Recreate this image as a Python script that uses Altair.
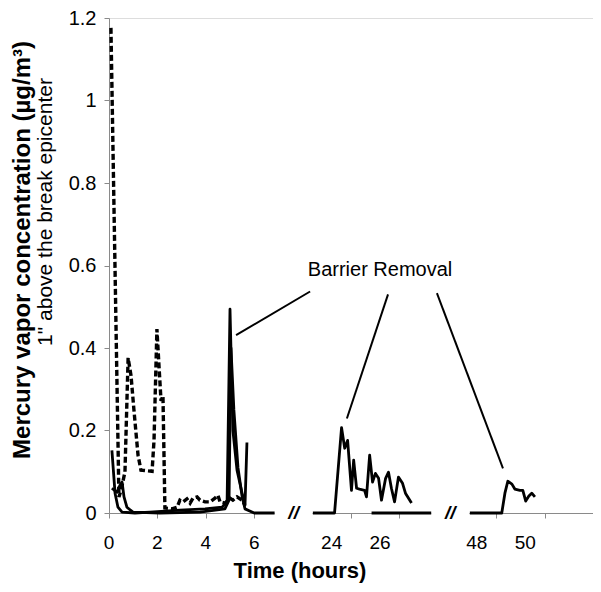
import altair as alt
import pandas as pd

# ---------------- data (hours, µg/m³) ----------------
# dashed series, first period
dash1_t = [0.08, 0.41, 0.50, 0.66, 0.79, 0.91, 1.03, 1.20, 1.32, 1.78, 1.86, 1.98, 2.07, 2.15,
           2.23, 2.31, 2.60, 2.81, 2.93, 3.06, 3.22, 3.35, 3.47, 3.64, 3.76, 3.97, 4.17, 4.38,
           4.50, 4.59, 4.79, 5.00, 5.12, 5.29, 5.50, 5.62]
dash1_v = [1.176, 0.039, 0.055, 0.10, 0.376, 0.333, 0.25, 0.14, 0.104, 0.101, 0.176, 0.446, 0.352,
           0.272, 0.284, 0.012, 0.01, 0.014, 0.031, 0.027, 0.034, 0.024, 0.036, 0.039, 0.031, 0.027,
           0.027, 0.036, 0.043, 0.027, 0.024, 0.036, 0.031, 0.039, 0.031, 0.019]

# solid series A, first period
solA1_t = [0.12, 0.25, 0.37, 0.54, 1.07, 1.69, 2.93, 3.97, 4.67, 4.88, 5.00, 5.12, 5.29, 5.50, 5.62, 5.70]
solA1_v = [0.152, 0.048, 0.014, 0.002, 0.0, 0.002, 0.007, 0.01, 0.014, 0.027, 0.494, 0.2, 0.104,
           0.048, 0.019, 0.171]

# solid series B, first period
solB1_t = [0.12, 0.33, 0.45, 0.54, 0.62, 0.74, 0.99, 2.1, 3.76, 4.79, 4.96, 5.04, 5.16, 5.33,
           5.50, 5.62, 6.0, 6.85]
solB1_v = [0.06, 0.05, 0.067, 0.075, 0.039, 0.014, 0.002, 0.0, 0.002, 0.01, 0.031, 0.40, 0.25,
           0.11, 0.04, 0.01, 0.0, 0.0]

# solid series A, second period (~24 h)
solA2_t = [23.22, 24.12, 24.41, 24.54, 24.66, 24.82, 24.91, 25.03, 25.15, 25.36, 25.44, 25.57,
           25.69, 25.81, 25.94, 26.06, 26.23, 26.35, 26.47, 26.60, 26.76, 26.93, 27.05, 27.30]
solA2_v = [0.0, 0.0, 0.207, 0.157, 0.176, 0.055, 0.128, 0.06, 0.058, 0.055, 0.039, 0.14, 0.075,
           0.096, 0.084, 0.031, 0.084, 0.099, 0.06, 0.027, 0.087, 0.072, 0.048, 0.024]

# solid series B, second period
solB2_t = [25.65, 28.13]
solB2_v = [0.0, 0.0]

# solid series A, third period (~48 h)
solA3_t = [47.71, 49.03, 49.16, 49.28, 49.45, 49.57, 49.78, 49.90, 50.02, 50.15, 50.27, 50.40]
solA3_v = [0.0, 0.0, 0.048, 0.077, 0.07, 0.058, 0.055, 0.055, 0.029, 0.041, 0.048, 0.039]

# broken time axis: hours subtracted in each period to get the drawn position
period_offset = [0.0, 14.8, 32.8]

tick_hours = [0, 2, 4, 6, 24, 26, 48, 50]
tick_period = [0, 0, 0, 0, 1, 1, 2, 2]
grid_ticks = [0, 2, 4, 6, 8, 10, 12, 14, 16, 18, 20]
y_ticks = [0, 0.2, 0.4, 0.6, 0.8, 1.0, 1.2]

# axis breaks (drawn position)
break_from = [6.85, 13.32]
break_to = [8.41, 14.89]

# "Barrier Removal" call-out lines (start near label -> end near peak)
call_x1 = [8.31, 11.53, 13.55]
call_y1 = [0.537, 0.530, 0.533]
call_x2 = [5.25, 9.83, 16.28]
call_y2 = [0.431, 0.229, 0.108]
call_text = "Barrier Removal"
call_text_x = 11.2
call_text_y = 0.59

GRAY = "#8a8a8a"
FONT = "Liberation Sans"
W, H = 484, 495

# ---------------- build tables ----------------
series = [
    ("dash1", "dashed", 0, dash1_t, dash1_v),
    ("solA1", "solid", 0, solA1_t, solA1_v),
    ("solB1", "solid", 0, solB1_t, solB1_v),
    ("solA2", "solid", 1, solA2_t, solA2_v),
    ("solB2", "solid", 1, solB2_t, solB2_v),
    ("solA3", "solid", 2, solA3_t, solA3_v),
]
rows = []
for key, style, per, ts, vs in series:
    for i, (t, v) in enumerate(zip(ts, vs)):
        rows.append({"key": key, "style": style, "hours": t,
                     "d": round(t - period_offset[per], 3), "v": v, "i": i})
df = pd.DataFrame(rows)

lab_pos = [round(h - period_offset[p], 3) for h, p in zip(tick_hours, tick_period)]

xscale = alt.Scale(domain=[0, 20], nice=False, zero=False)
yscale = alt.Scale(domain=[0, 1.2], nice=False)

solid = alt.Chart(df).transform_filter(alt.datum.style == "solid").mark_line(
    color="black", strokeWidth=2.8, strokeJoin="round").encode(
    x=alt.X("d:Q", scale=xscale,
            axis=alt.Axis(values=grid_ticks, labels=False, title=None, grid=False,
                          tickSize=5, tickColor=GRAY, domainColor=GRAY, orient="bottom")),
    y=alt.Y("v:Q", scale=yscale,
            axis=alt.Axis(values=y_ticks, format="~g", title=None, grid=False,
                          tickSize=5, tickColor=GRAY, domainColor=GRAY,
                          labelFontSize=20, labelFont=FONT, labelColor="black",
                          labelPadding=8)),
    detail="key:N",
    order="i:Q",
)

dashed = alt.Chart(df).transform_filter(alt.datum.style == "dashed").mark_line(
    color="black", strokeWidth=3.4, strokeDash=[6, 3], strokeJoin="miter").encode(
    x=alt.X("d:Q", scale=xscale),
    y=alt.Y("v:Q", scale=yscale),
    detail="key:N",
    order="i:Q",
)

lab_df = pd.DataFrame({"d": lab_pos, "lab": [str(h) for h in tick_hours]})
xlabels = alt.Chart(lab_df).mark_text(font=FONT, fontSize=19, color="black",
                                      baseline="middle", align="center").encode(
    x=alt.X("d:Q", scale=xscale), y=alt.value(H + 30), text="lab:N")

gap_df = pd.DataFrame({"d1": break_from, "d2": break_to})
gaps = alt.Chart(gap_df).mark_rect(color="white").encode(
    x="d1:Q", x2="d2:Q", y=alt.value(H - 4), y2=alt.value(H + 9)
)

brk_df = pd.DataFrame({"d": [(a + b) / 2 for a, b in zip(break_from, break_to)],
                       "v": [0.0, 0.0], "s": ["//", "//"]})
breaks = alt.Chart(brk_df).mark_text(font=FONT, fontSize=19, fontWeight="bold",
                                     fontStyle="italic", baseline="middle",
                                     color="black").encode(
    x="d:Q", y="v:Q", text="s:N")

call_df = pd.DataFrame({"x1": call_x1, "y1": call_y1, "x2": call_x2, "y2": call_y2})
callouts = alt.Chart(call_df).mark_rule(color="black", strokeWidth=2).encode(
    x="x1:Q", y="y1:Q", x2="x2:Q", y2="y2:Q")

ctext = alt.Chart(pd.DataFrame({"x": [call_text_x], "y": [call_text_y], "t": [call_text]})).mark_text(
    font=FONT, fontSize=20, color="black", baseline="middle").encode(
    x="x:Q", y="y:Q", text="t:N")

ytitle = alt.Chart(pd.DataFrame({"t": ["Mercury vapor concentration  (µg/m³)"]})).mark_text(
    font=FONT, fontSize=24, fontWeight="bold", angle=270, baseline="middle",
    align="center", color="black").encode(
    x=alt.value(-86), y=alt.value(232), text="t:N")

ysub = alt.Chart(pd.DataFrame({"t": ['1" above the break epicenter']})).mark_text(
    font=FONT, fontSize=21, angle=270, baseline="middle", align="center",
    color="black").encode(
    x=alt.value(-63), y=alt.value(194), text="t:N")

xtitle = alt.Chart(pd.DataFrame({"t": ["Time (hours)"]})).mark_text(
    font=FONT, fontSize=22, fontWeight="bold", baseline="middle", align="center",
    color="black").encode(
    x=alt.value(191), y=alt.value(553), text="t:N")

chart = alt.layer(solid, dashed, xlabels, gaps, breaks, callouts, ctext, ytitle, ysub, xtitle).properties(
    width=W, height=H,
    autosize=alt.AutoSizeParams(type="none"),
    padding={"left": 101, "top": 10, "right": 0, "bottom": 70},
).configure_view(stroke=GRAY, strokeWidth=1).configure(background="white")

chart.save("out.html", embed_options={"renderer": "svg", "actions": False})
